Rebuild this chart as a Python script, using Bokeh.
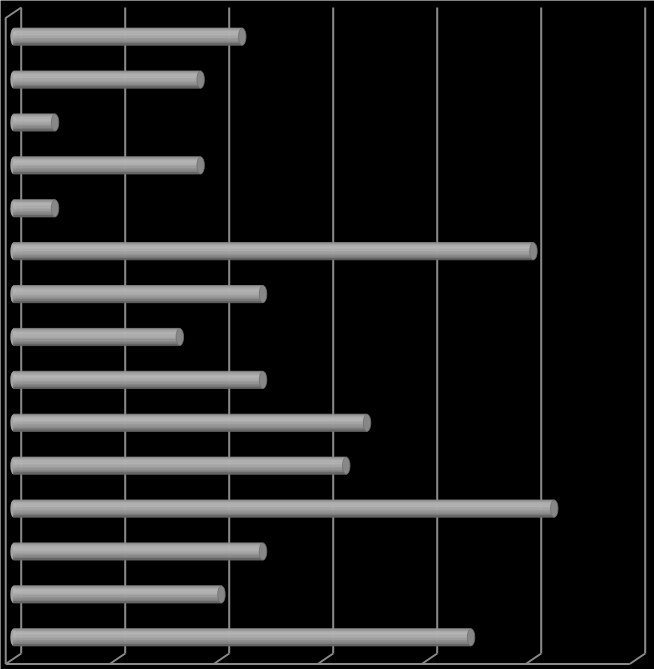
from bokeh.plotting import figure
from bokeh.models import Range1d, ColumnDataSource
from bokeh.embed import file_html
from bokeh.resources import INLINE

# ---- data (top row first) ----
values = [11, 9, 2, 9, 2, 25, 12, 8, 12, 17, 16, 26, 12, 10, 22]
rows = [i + 0.5 for i in range(len(values))]
ticks = [0, 5, 10, 15, 20, 25, 30]

# ---- 3D frame constants (in data units) ----
DX, DY = -0.745, 0.245          # depth offset back -> front
U_TOP, U_BOT = -0.1807, 14.878  # back wall top / bottom
GRID = "#8a8a8a"

p = figure(width=654, height=669,
           x_range=Range1d(-0.9952, 30.447), y_range=Range1d(15.2506, -0.3438),
           output_backend="svg", toolbar_location=None, min_border=0,
           background_fill_color="black", border_fill_color="black",
           outline_line_color=None)
p.axis.visible = False
p.grid.visible = False

# back-wall gridlines
n = len(ticks)
p.segment(x0=ticks, y0=[U_TOP] * n, x1=ticks, y1=[U_BOT] * n,
          line_color=GRID, line_width=2)
# floor slants
p.segment(x0=ticks, y0=[U_BOT] * n, x1=[t + DX for t in ticks], y1=[U_BOT + DY] * n,
          line_color=GRID, line_width=2)
# front floor edge
p.line(x=[ticks[0] + DX, ticks[-1] + DX], y=[U_BOT + DY, U_BOT + DY],
       line_color=GRID, line_width=2)
# left wall
p.line(x=[ticks[0], ticks[0] + DX, ticks[0] + DX],
       y=[U_TOP, U_TOP + DY, U_BOT + DY], line_color=GRID, line_width=2)

# ---- cylinders ----
H = 0.40
x0 = DX / 2
ends = [v + DX / 2 for v in values]
src = ColumnDataSource(dict(y=rows, end=ends, start=[x0] * len(values)))

# left rounded end
p.ellipse(x="start", y="y", width=0.30, height=H, source=src,
          fill_color="#a4a4a4", line_color=None)

band_colors = ["#8e8e8e", "#a2a2a2", "#afafaf", "#b5b5b5", "#b4b4b4", "#afafaf",
               "#a8a8a8", "#a0a0a0", "#979797", "#8c8c8c", "#7e7e7e", "#666666"]
N = len(band_colors)
bh = H / N
for k, c in enumerate(band_colors):
    off = -H / 2 + (k + 0.5) * bh
    p.hbar(y=[r + off for r in rows], left=[x0] * len(values), right=ends,
           height=bh, fill_color=c, line_color=c, line_width=0.8)

# right end cap
p.ellipse(x="end", y="y", width=0.36, height=H, source=src,
          fill_color="#878787", line_color="#6e6e6e", line_width=0.8)
p.ellipse(x="end", y=[r - 0.03 for r in rows], width=0.2, height=H * 0.6,
          fill_color="#939393", line_color=None)

open("out.html", "w").write(file_html(p, INLINE))
